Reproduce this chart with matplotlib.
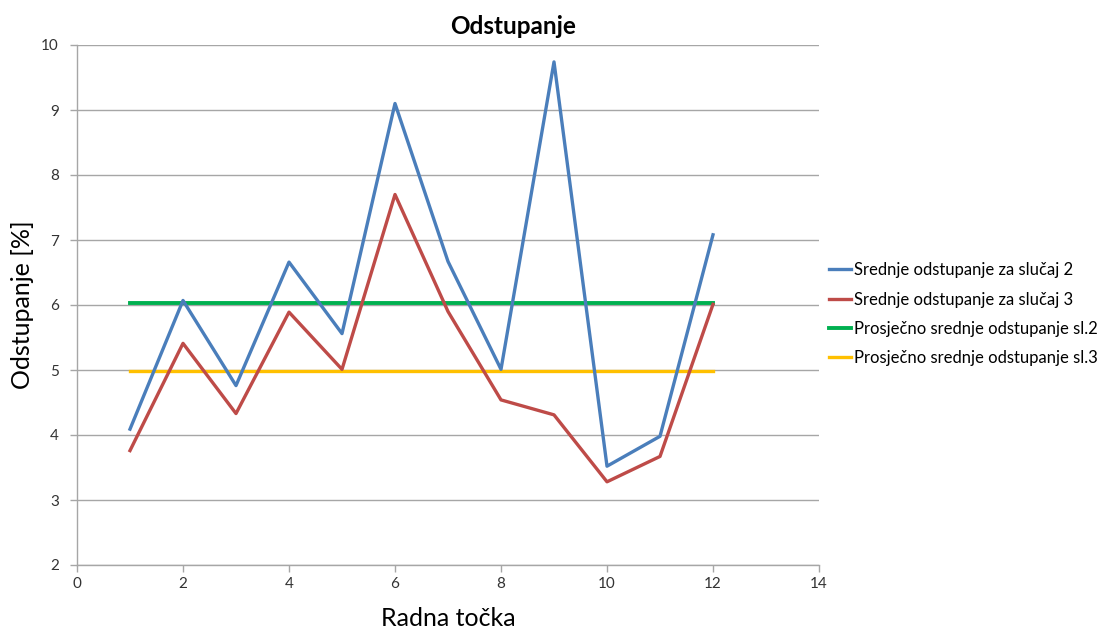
import matplotlib
matplotlib.use("Agg")
import matplotlib.pyplot as plt

plt.rcParams['font.family'] = ['Lato', 'DejaVu Sans']

x_points = [1, 2, 3, 4, 5, 6, 7, 8, 9, 10, 11, 12]
slucaj2 = [4.09, 6.07, 4.76, 6.66, 5.56, 9.10, 6.67, 5.01, 9.74, 3.52, 3.98, 7.08]
slucaj3 = [3.76, 5.41, 4.33, 5.89, 5.01, 7.70, 5.90, 4.54, 4.31, 3.28, 3.67, 6.01]
prosjek2 = 6.03
prosjek3 = 4.99

labels = ["Srednje odstupanje za slučaj 2", "Srednje odstupanje za slučaj 3",
          "Prosječno srednje odstupanje sl.2", "Prosječno srednje odstupanje sl.3"]
colors = ["#4A7EBB", "#BE4B48", "#00B050", "#FFC000"]

fig = plt.figure(figsize=(11.09, 6.30), dpi=100)
ax = fig.add_axes([77/1109, 1 - 565/630, (819 - 77)/1109, (565 - 45)/630])

ax.plot(x_points, slucaj2, color=colors[0], lw=2.4, label=labels[0], zorder=3)
ax.plot(x_points, slucaj3, color=colors[1], lw=2.4, label=labels[1], zorder=3)
ax.plot(x_points, [prosjek2] * len(x_points), color=colors[2], lw=2.8, label=labels[2], zorder=2)
ax.plot(x_points, [prosjek3] * len(x_points), color=colors[3], lw=2.4, label=labels[3], zorder=2)

ax.set_xlim(0, 14)
ax.set_ylim(2, 10)
ax.set_xticks(range(0, 15, 2))
ax.set_yticks(range(2, 11))
ax.grid(axis='y', color='#A6A6A6', lw=1.0)
ax.set_axisbelow(True)
for s in ['top', 'right']:
    ax.spines[s].set_visible(False)
for s in ['left', 'bottom']:
    ax.spines[s].set_color('#A6A6A6')
    ax.spines[s].set_linewidth(1.0)
ax.tick_params(axis='both', colors='#A6A6A6', labelcolor='#333333', labelsize=11, length=5, width=1.0)
ax.tick_params(axis='y', pad=8)

ax.set_title("Odstupanje", fontsize=17.5, fontweight='bold', pad=8, x=0.588)
ax.set_xlabel("Radna točka", fontsize=18, labelpad=12)
ax.set_ylabel("Odstupanje [%]", fontsize=18, labelpad=5)

ax.legend(loc='upper left', bbox_to_anchor=(1.005, 0.595), frameon=False, fontsize=12,
          handlelength=1.3, handletextpad=0.2, labelspacing=0.8, borderaxespad=0)

fig.savefig("out.png", dpi=100)
